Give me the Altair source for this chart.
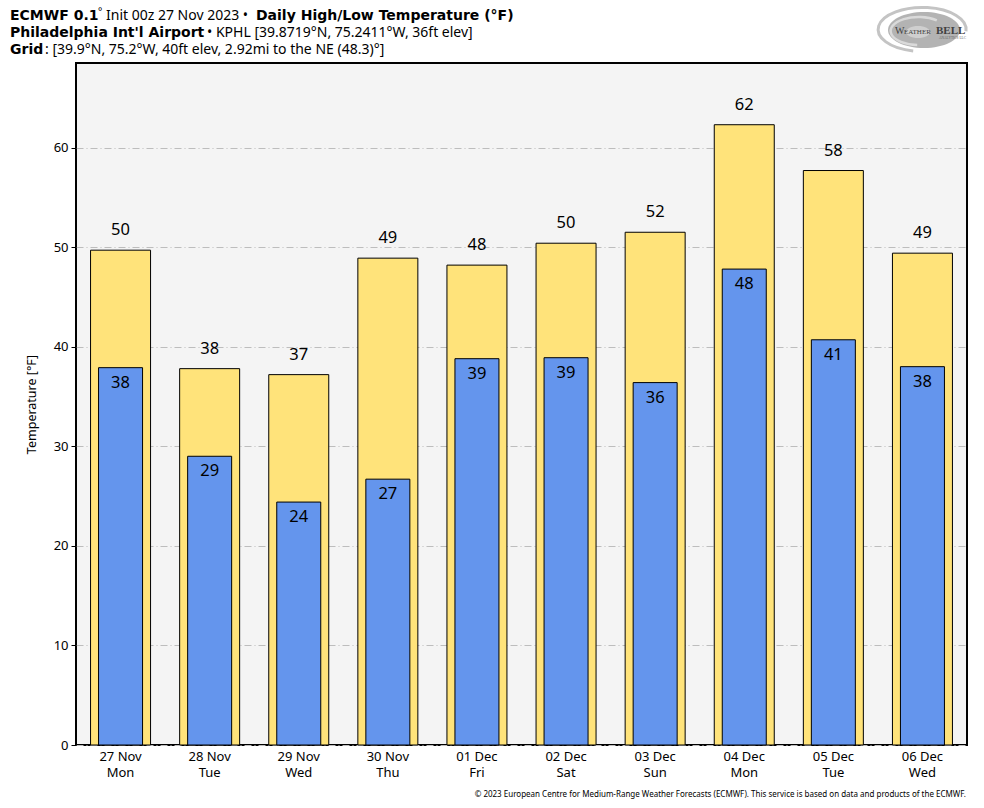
import altair as alt
import pandas as pd

# Forecast days, ECMWF 0.1° daily high / low temperatures (°F)
days = ["27 Nov", "28 Nov", "29 Nov", "30 Nov", "01 Dec",
        "02 Dec", "03 Dec", "04 Dec", "05 Dec", "06 Dec"]
weekdays = ["Mon", "Tue", "Wed", "Thu", "Fri",
            "Sat", "Sun", "Mon", "Tue", "Wed"]
highs = [49.7, 37.8, 37.2, 48.9, 48.2, 50.4, 51.5, 62.3, 57.7, 49.4]
lows = [37.9, 29.0, 24.4, 26.7, 38.8, 38.9, 36.4, 47.8, 40.7, 38.0]
y_ticks = [0, 10, 20, 30, 40, 50, 60]

df = pd.DataFrame({"day": days, "weekday": weekdays,
                   "high": highs, "low": lows})

W, H = 891, 682
LEFT, TOP = 76, 63
HIGH_COLOR = "#ffe37a"
LOW_COLOR = "#6495ed"
REG_FONT = "Noto Sans"
BOLD_FONT = "DejaVu Sans"

x_enc = alt.X(
    "day:N", sort=None, title=None,
    scale=alt.Scale(paddingInner=0, paddingOuter=0),
    axis=alt.Axis(labelAngle=0, labelFontSize=13, labelColor="black",
                  labelFont=REG_FONT, labelPadding=5, ticks=False,
                  domain=False, grid=False),
)
y_scale = alt.Scale(domain=[0, 68.5], nice=False, zero=True)

base = alt.Chart(df)

high_bar = base.mark_bar(color=HIGH_COLOR, stroke="black", strokeWidth=1,
                         width=60).encode(
    x=x_enc,
    y=alt.Y("high:Q", scale=y_scale, title="Temperature [°F]",
            axis=alt.Axis(values=y_ticks, labelFontSize=13, labelColor="black",
                          labelFont=REG_FONT, tickColor="black", tickSize=5,
                          tickWidth=1, domain=False, labelPadding=3,
                          titleFont=REG_FONT, titleFontSize=12.5,
                          titleFontWeight="normal", titleColor="black",
                          titlePadding=15, gridColor="#bdbdbd",
                          gridDash=[7, 3, 1, 3], gridWidth=1)),
)
low_bar = base.mark_bar(color=LOW_COLOR, stroke="black", strokeWidth=1,
                        width=44).encode(x=x_enc, y=alt.Y("low:Q", scale=y_scale))

high_txt = base.mark_text(fontSize=16.5, font=REG_FONT, color="black",
                          baseline="middle", dy=-20).encode(
    x=x_enc, y=alt.Y("high:Q", scale=y_scale),
    text=alt.Text("high:Q", format=".0f"))
low_txt = base.mark_text(fontSize=16.5, font=REG_FONT, color="black",
                         baseline="middle", dy=15).encode(
    x=x_enc, y=alt.Y("low:Q", scale=y_scale),
    text=alt.Text("low:Q", format=".0f"))

# second line of the category labels: day of week
weekday_txt = base.mark_text(fontSize=13, font=REG_FONT, color="black",
                             baseline="middle").encode(
    x=x_enc, y=alt.value(H + 28), text="weekday:N")


def label(text, px, py, size=14, bold=False, color="black", align="left",
          font=None):
    """Free text placed in page pixels (converted to plot coordinates)."""
    return alt.Chart(pd.DataFrame({"t": [text]})).mark_text(
        align=align, baseline="alphabetic", fontSize=size,
        font=font or (BOLD_FONT if bold else REG_FONT),
        fontWeight="bold" if bold else "normal", color=color,
    ).encode(x=alt.value(px - LEFT), y=alt.value(py - TOP), text="t:N")


header = [
    label("ECMWF 0.1", 10, 20, bold=True),
    label("°", 98, 15, size=10),
    label("Init 00z 27 Nov 2023 •", 106, 20),
    label("Daily High/Low Temperature (°F)", 256, 20, bold=True),
    label("Philadelphia Int'l Airport", 10, 37, bold=True),
    label("• KPHL [39.8719°N, 75.2411°W, 36ft elev]", 207, 37),
    label("Grid", 10, 54, bold=True),
    label(": [39.9°N, 75.2°W, 40ft elev, 2.92mi to the NE (48.3)°]", 45, 54),
    label("© 2023 European Centre for Medium-Range Weather Forecasts (ECMWF). "
          "This service is based on data and products of the ECMWF.",
          966, 797, size=8, align="right"),
]


# WeatherBELL emblem: grey swirl with the wordmark on top
def shape(path, px, py, half_width, fill=None, stroke=None, sw=1.0):
    mark = dict(shape=path, size=(2 * half_width) ** 2, opacity=1)
    if fill:
        mark.update(filled=True, fill=fill, strokeWidth=0)
    else:
        mark.update(filled=False, stroke=stroke, strokeWidth=sw)
    return alt.Chart(pd.DataFrame({"t": [0]})).mark_point(**mark).encode(
        x=alt.value(px - LEFT), y=alt.value(py - TOP))


ELLIPSE = "M -1 0 A 1 0.5 0 1 1 1 0 A 1 0.5 0 1 1 -1 0 Z"
OUTER_SWIRL = "M -0.2 0.5 A 1 0.5 0 1 1 1 0.05"
INNER_SWIRL = "M 0.6 -0.38 A 1 0.5 0 1 0 -0.1 0.5"

logo = [
    shape(ELLIPSE, 924, 30, 36, fill="#b3b3b3"),
    shape(OUTER_SWIRL, 922, 29, 44, stroke="#c4c4c4", sw=3),
    shape(INNER_SWIRL, 920, 31, 28, stroke="#dadada", sw=2.5),
    shape(ELLIPSE, 918, 32, 12, fill="#cfcfcf"),
    label("W", 895, 34, size=10, color="#3f3f3f", font="Liberation Serif"),
    label("EATHER", 904, 34, size=7, color="#3f3f3f", font="Liberation Serif"),
    label("BELL", 936, 34, size=11, bold=True, color="#3f3f3f",
          font="Liberation Serif"),
    label("ANALYTICS LLC", 966, 39, size=3.5, align="right", color="#666666",
          font="Liberation Serif"),
]

chart = alt.layer(high_bar, low_bar, high_txt, low_txt, weekday_txt,
                  *header, *logo).properties(
    width=W, height=H,
    autosize=alt.AutoSizeParams(type="none"),
    padding={"left": LEFT, "top": TOP, "right": 984 - LEFT - W,
             "bottom": 808 - TOP - H},
    background="white",
).configure_view(
    fill="#f4f4f4", stroke="black", strokeWidth=2,
)

chart.save("out.html", embed_options={"renderer": "svg", "actions": False})
